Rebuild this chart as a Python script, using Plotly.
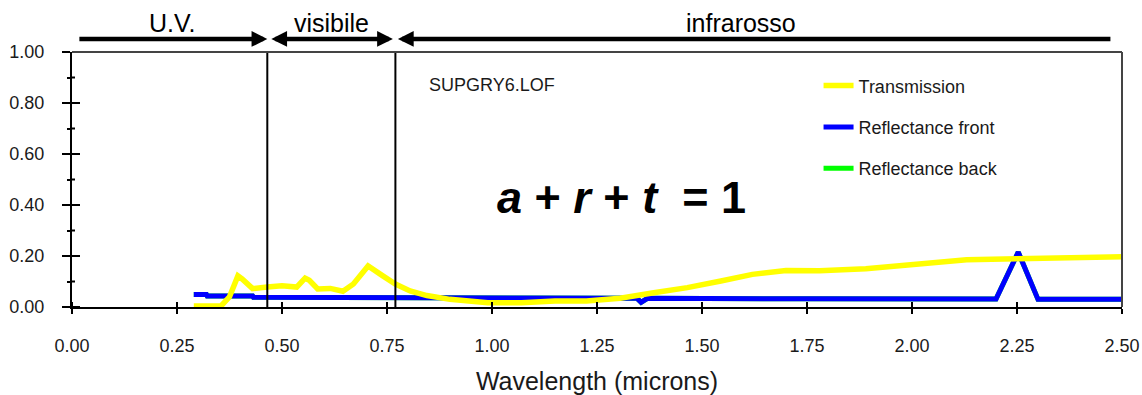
import plotly.graph_objects as go

# Transmission spectrum (yellow)
wavelength_t = [0.29, 0.355, 0.375, 0.395, 0.405, 0.43, 0.465, 0.50, 0.535, 0.555,
                0.565, 0.585, 0.615, 0.645, 0.67, 0.705, 0.74, 0.77, 0.805, 0.845,
                0.90, 0.99, 1.07, 1.15, 1.225, 1.305, 1.385, 1.465, 1.545, 1.62,
                1.70, 1.78, 1.89, 1.97, 2.05, 2.13, 2.25, 2.37, 2.50]
transmission = [0.004, 0.004, 0.040, 0.122, 0.110, 0.072, 0.078, 0.083, 0.078, 0.113,
                0.105, 0.071, 0.073, 0.062, 0.090, 0.161, 0.122, 0.090, 0.063, 0.045,
                0.030, 0.017, 0.017, 0.024, 0.024, 0.034, 0.056, 0.076, 0.102, 0.128,
                0.143, 0.142, 0.150, 0.161, 0.175, 0.185, 0.189, 0.193, 0.197]

# Reflectance spectra (front in blue, back in green lies underneath it)
wavelength_r = [0.29, 0.32, 0.322, 0.43, 0.432, 0.83, 0.95, 1.00, 1.05, 1.20,
                1.345, 1.355, 1.37, 1.75, 2.20, 2.253, 2.30, 2.50]
reflectance_front = [0.049, 0.049, 0.043, 0.043, 0.038, 0.036, 0.035, 0.038, 0.034, 0.035,
                     0.034, 0.018, 0.034, 0.032, 0.031, 0.215, 0.030, 0.030]
reflectance_back = [0.049, 0.049, 0.043, 0.043, 0.038, 0.036, 0.035, 0.038, 0.034, 0.035,
                    0.034, 0.018, 0.034, 0.032, 0.031, 0.215, 0.030, 0.030]

# Spectral regions
band_edges = [0.465, 0.77]
band_span = [0.014, 2.476]
band_names = ["U.V.", "visibile", "infrarosso"]
band_label_x = [0.238, 0.618, 1.593]

x_ticks = [0.0, 0.25, 0.5, 0.75, 1.0, 1.25, 1.5, 1.75, 2.0, 2.25, 2.5]
y_ticks = [0.0, 0.2, 0.4, 0.6, 0.8, 1.0]
y_minor_ticks = [0.1, 0.3, 0.5, 0.7, 0.9]

FONT = "Liberation Sans, Arial, sans-serif"
INK = "#1a1a1a"

fig = go.Figure()

fig.add_trace(go.Scatter(
    x=wavelength_r, y=reflectance_back, mode="lines", name="Reflectance back",
    line=dict(color="#00ff00", width=5), legendgroup="back", legendrank=3))
fig.add_trace(go.Scatter(
    x=wavelength_r, y=reflectance_front, mode="lines", name="Reflectance front",
    line=dict(color="#0000ff", width=5), legendgroup="front", legendrank=2))
fig.add_trace(go.Scatter(
    x=wavelength_t, y=transmission, mode="lines", name="Transmission",
    line=dict(color="#ffff00", width=5.5), legendgroup="trans", legendrank=1))

# inner halves of the axis ticks, so every tick crosses its axis line
tick_style = dict(color="black", width=2)
for t in x_ticks:
    fig.add_shape(type="line", xref="x", yref="y", ysizemode="pixel", yanchor=0,
                  x0=t, x1=t, y0=0, y1=5, line=tick_style)
for t in y_ticks:
    fig.add_shape(type="line", xref="x", yref="y", xsizemode="pixel", xanchor=0,
                  x0=0, x1=8, y0=t, y1=t, line=tick_style)
for t in y_minor_ticks:
    fig.add_shape(type="line", xref="x", yref="y", xsizemode="pixel", xanchor=0,
                  x0=0, x1=3, y0=t, y1=t, line=tick_style)

# region boundaries
for edge in band_edges:
    fig.add_shape(type="line", xref="x", yref="y", x0=edge, x1=edge, y0=0, y1=1,
                  line=dict(color="black", width=2), layer="above")

# plot frame, top and right
fig.add_shape(type="line", xref="paper", yref="paper", x0=0, x1=1, y0=1, y1=1,
              line=dict(color="#444", width=2))
fig.add_shape(type="line", xref="paper", yref="paper", x0=1, x1=1, y0=0, y1=1,
              line=dict(color="#444", width=2))

# region arrows above the plot
ARROW_Y = 1.051
arrow_common = dict(xref="x", yref="paper", axref="x", ayref="pixel", ay=0,
                    y=ARROW_Y, text="", showarrow=True, arrowhead=2,
                    arrowsize=0.7, arrowwidth=4.5, arrowcolor="black",
                    standoff=0, startstandoff=0)
fig.add_annotation(x=band_edges[0], ax=band_span[0], **arrow_common)
fig.add_annotation(x=band_edges[1] - 0.006, ax=band_edges[0] + 0.006,
                   arrowside="end+start", startarrowhead=2, startarrowsize=0.7,
                   **arrow_common)
fig.add_annotation(x=band_edges[1] + 0.006, ax=band_span[1], **arrow_common)

for name, lx in zip(band_names, band_label_x):
    fig.add_annotation(x=lx, y=1.114, xref="x", yref="paper", text=name,
                       xanchor="center", yanchor="middle", showarrow=False,
                       font=dict(family=FONT, size=25, color="black"))

fig.add_annotation(x=0.845, y=0.8725, xref="x", yref="paper", text="SUPGRY6.LOF",
                   xanchor="left", yanchor="middle", showarrow=False,
                   font=dict(family=FONT, size=18, color=INK))

fig.add_annotation(x=1.308, y=0.431, xref="x", yref="paper",
                   text="<b><i>a</i> + <i>r</i> + <i>t</i> \u00a0= 1</b>",
                   xanchor="center", yanchor="middle", showarrow=False,
                   font=dict(family=FONT, size=45, color="black"))

axis_common = dict(showgrid=False, zeroline=False, tickcolor="black", tickwidth=2)

fig.update_layout(
    width=1142, height=395,
    margin=dict(l=72, r=20, t=52, b=88, autoexpand=False),
    paper_bgcolor="white", plot_bgcolor="white",
    font=dict(family=FONT, color=INK),
    showlegend=True,
    legend=dict(x=0.711, y=0.94, xanchor="left", yanchor="top",
                bgcolor="rgba(0,0,0,0)", borderwidth=0,
                font=dict(family=FONT, size=18, color=INK),
                tracegroupgap=15, itemwidth=30),
    xaxis=dict(range=[0, 2.5], tickmode="array", tickvals=x_ticks,
               tickformat=".2f", ticks="outside", ticklen=5,
               showline=True, linecolor="black", linewidth=2,
               tickfont=dict(family=FONT, size=18, color=INK),
               ticklabelstandoff=16,
               title=dict(text="Wavelength (microns)",
                          font=dict(family=FONT, size=25, color=INK), standoff=18),
               **axis_common),
    yaxis=dict(range=[0, 1], tickmode="array", tickvals=y_ticks,
               tickformat=".2f", ticks="outside", ticklen=8,
               minor=dict(tickvals=y_minor_ticks, ticks="outside", ticklen=3,
                          tickwidth=2, tickcolor="black"),
               showline=True, linecolor="black", linewidth=2,
               tickfont=dict(family=FONT, size=18, color=INK),
               ticklabelstandoff=14,
               **axis_common),
)

fig.write_html("out.html")
